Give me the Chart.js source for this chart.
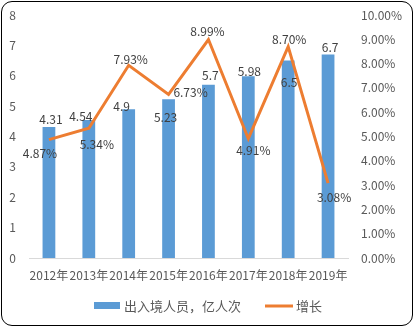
<!DOCTYPE html>
<html>
<head>
<meta charset="utf-8">
<script src="https://cdn.jsdelivr.net/npm/chart.js@4.4.1/dist/chart.umd.min.js"></script>
<style>
    html, body { margin: 0; padding: 0; background: #fff; }
    #wrap { position: relative; width: 413px; height: 326px; }
    #frame {
        position: absolute; left: 1px; top: 1px; width: 410px; height: 323px;
        border: 1px solid #000; border-radius: 11px; pointer-events: none;
    }
    canvas { position: absolute; left: 0; top: 0; }
</style>
</head>
<body>
<div id="wrap">
    <canvas id="chart" width="413" height="326"></canvas>
    <div id="frame"></div>
</div>
<script>
    // Data
    const years = ['2012年', '2013年', '2014年', '2015年', '2016年', '2017年', '2018年', '2019年'];
    const travelers = [4.31, 4.54, 4.9, 5.23, 5.7, 5.98, 6.5, 6.7];
    const growth = [4.87, 5.34, 7.93, 6.73, 8.99, 4.91, 8.70, 3.08];
    const leftTicks = [0, 1, 2, 3, 4, 5, 6, 7, 8];
    const rightTicks = [0, 1, 2, 3, 4, 5, 6, 7, 8, 9, 10];

    const BLUE = '#5B9BD5';
    const ORANGE = '#ED7D31';
    const FONT = '"Noto Sans CJK SC", "Noto Sans", sans-serif';

    // label offsets (dx, dy) from the mark, mimicking Excel's placement
    const barLabelOffset = [[2, -8], [-8, -4], [-7, -3], [-3, 18], [2, -9], [1, -5], [1, 22], [2, -7]];
    const lineLabelOffset = [[-9, 14], [8, 16], [2, -6], [22, -2], [-1, -8], [5, 12], [1, -7], [6, 14]];

    const labelsPlugin = {
        id: 'valueLabels',
        afterDatasetsDraw(chart) {
            const ctx = chart.ctx;
            ctx.save();
            ctx.font = '12px ' + FONT;
            ctx.fillStyle = '#404040';
            ctx.textAlign = 'center';
            ctx.textBaseline = 'middle';
            chart.getDatasetMeta(0).data.forEach(function(bar, i) {
                const o = barLabelOffset[i];
                ctx.fillText(String(travelers[i]), bar.x + o[0], bar.y + o[1]);
            });
            chart.getDatasetMeta(1).data.forEach(function(pt, i) {
                const o = lineLabelOffset[i];
                ctx.fillText(growth[i].toFixed(2) + '%', pt.x + o[0], pt.y + o[1]);
            });
            ctx.restore();
        }
    };

    // Legend drawn by hand to match Excel's look
    const legendPlugin = {
        id: 'excelLegend',
        afterDraw(chart) {
            const ctx = chart.ctx;
            const y = 306;
            ctx.save();
            ctx.fillStyle = BLUE;
            ctx.fillRect(94, 302, 26, 7);
            ctx.font = '13px ' + FONT;
            ctx.fillStyle = '#595959';
            ctx.textBaseline = 'middle';
            ctx.textAlign = 'left';
            ctx.fillText(chart.data.datasets[0].label, 124, y);
            ctx.strokeStyle = ORANGE;
            ctx.lineWidth = 3;
            ctx.beginPath();
            ctx.moveTo(265, y);
            ctx.lineTo(293, y);
            ctx.stroke();
            ctx.fillText(chart.data.datasets[1].label, 296, y);
            ctx.restore();
        }
    };

    // keep the plot area where Excel has it
    function fixWidth(w) {
        return function(scale) {
            scale.width = w;
            scale.paddingTop = 0;
            scale.paddingBottom = 0;
        };
    }

    const ctx = document.getElementById('chart').getContext('2d');
    const chart = new Chart(ctx, {
        data: {
            labels: years,
            datasets: [{
                type: 'bar',
                label: '出入境人员，亿人次',
                data: travelers,
                backgroundColor: BLUE,
                yAxisID: 'y',
                categoryPercentage: 0.32,
                barPercentage: 1,
                order: 2
            }, {
                type: 'line',
                label: '增长',
                data: growth,
                borderColor: ORANGE,
                borderWidth: 3,
                pointRadius: 0,
                tension: 0,
                yAxisID: 'y1',
                order: 1
            }]
        },
        options: {
            responsive: false,
            animation: false,
            layout: { padding: { top: 15, bottom: 0, left: 0, right: 0 } },
            plugins: {
                legend: { display: false },
                tooltip: { enabled: false }
            },
            scales: {
                x: {
                    grid: { display: false, drawTicks: false },
                    border: { display: true, color: '#D9D9D9', width: 1 },
                    ticks: {
                        autoSkip: false, maxRotation: 0, minRotation: 0,
                        padding: 10, color: '#595959',
                        font: { family: FONT, size: 12 }
                    },
                    afterFit: function(scale) {
                        scale.height = 326 - 258;
                        scale.paddingLeft = 0;
                        scale.paddingRight = 0;
                    }
                },
                y: {
                    position: 'left',
                    min: 0, max: 8,
                    grid: { display: false, drawTicks: false },
                    border: { display: false },
                    afterBuildTicks: function(scale) {
                        scale.ticks = leftTicks.map(function(v) { return { value: v }; });
                    },
                    ticks: {
                        padding: 13, color: '#595959',
                        font: { family: FONT, size: 12 }
                    },
                    afterFit: fixWidth(29)
                },
                y1: {
                    position: 'right',
                    min: 0, max: 10,
                    grid: { display: false, drawTicks: false },
                    border: { display: false },
                    afterBuildTicks: function(scale) {
                        scale.ticks = rightTicks.map(function(v) { return { value: v }; });
                    },
                    ticks: {
                        padding: 13, color: '#595959',
                        font: { family: FONT, size: 12 },
                        callback: function(v) { return Number(v).toFixed(2) + '%'; }
                    },
                    afterFit: fixWidth(65)
                }
            }
        },
        plugins: [labelsPlugin, legendPlugin]
    });
</script>
</body>
</html>
